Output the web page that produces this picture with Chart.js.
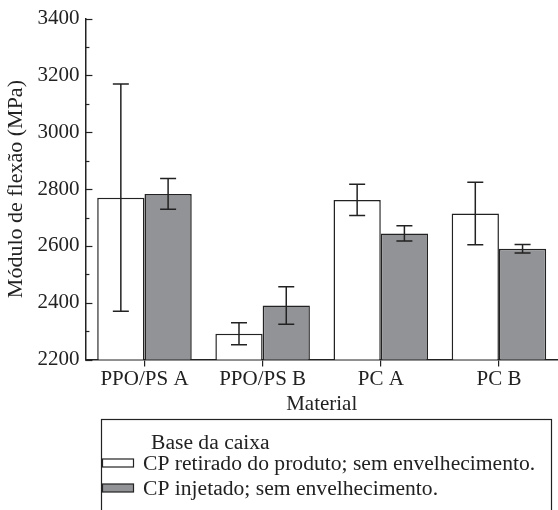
<!DOCTYPE html>
<html>
<head>
<meta charset="utf-8">
<script src="https://cdn.jsdelivr.net/npm/chart.js@4/dist/chart.umd.min.js"></script>
<style>
  html, body { margin: 0; padding: 0; background: #fff; }
  #wrap { width: 558px; height: 510px; }
</style>
</head>
<body>
<div id="wrap"><canvas id="modulo" width="558" height="510"></canvas></div>
<script>
var categories = ["PPO/PS A", "PPO/PS B", "PC A", "PC B"];
var seriesNames = ["CP retirado do produto; sem envelhecimento.", "CP injetado; sem envelhecimento."];
var legendTitle = "Base da caixa";

var retiradoValues = [2770, 2291, 2762, 2714];
var retiradoErrors = [400, 39, 55, 110];
var injetadoValues = [2783, 2390, 2644, 2590];
var injetadoErrors = [54, 66, 27, 15];

var yMin = 2200, yMax = 3400, yStep = 100, yLabelStep = 200;

var ink = "#222";
var serif = "'Liberation Serif', 'Times New Roman', serif";

// error bars, drawn through the bar scales
var errorBars = {
  id: "errorBars",
  afterDatasetsDraw: function(chart) {
    var ctx = chart.ctx;
    var y = chart.scales.y;
    ctx.save();
    ctx.strokeStyle = ink;
    ctx.lineWidth = 1.5;
    chart.data.datasets.forEach(function(ds, di) {
      var meta = chart.getDatasetMeta(di);
      meta.data.forEach(function(bar, i) {
        var v = ds.data[i], e = ds.errors[i];
        var top = y.getPixelForValue(v + e);
        var bot = y.getPixelForValue(v - e);
        ctx.beginPath();
        ctx.moveTo(bar.x, top); ctx.lineTo(bar.x, bot);
        ctx.moveTo(bar.x - 8, top); ctx.lineTo(bar.x + 8, top);
        ctx.moveTo(bar.x - 8, bot); ctx.lineTo(bar.x + 8, bot);
        ctx.stroke();
      });
    });
    ctx.restore();
  }
};

// y ticks point into the plot, long on labelled values
var innerTicks = {
  id: "innerTicks",
  afterDraw: function(chart) {
    var ctx = chart.ctx;
    var y = chart.scales.y;
    var left = chart.chartArea.left;
    ctx.save();
    ctx.strokeStyle = ink;
    ctx.lineWidth = 1.2;
    y.ticks.forEach(function(t) {
      var py = Math.round(y.getPixelForValue(t.value)) + 0.5;
      var len = (t.value % yLabelStep === 0) ? 7 : 4;
      ctx.beginPath();
      ctx.moveTo(left, py); ctx.lineTo(left + len, py);
      ctx.stroke();
    });
    ctx.restore();
  }
};

// boxed legend below the axis
var boxLegend = {
  id: "boxLegend",
  afterDraw: function(chart) {
    var ctx = chart.ctx;
    ctx.save();
    ctx.strokeStyle = ink;
    ctx.lineWidth = 1.2;
    ctx.strokeRect(101.5, 419.5, 450, 120);
    ctx.fillStyle = ink;
    ctx.font = "21.6px " + serif;
    ctx.textBaseline = "middle";
    ctx.fillText(legendTitle, 151, 443);
    chart.data.datasets.forEach(function(ds, i) {
      var cy = 463 + i * 25;
      ctx.fillStyle = ds.backgroundColor;
      ctx.fillRect(102.5, cy - 4, 31, 8);
      ctx.strokeStyle = ink;
      ctx.strokeRect(102.5, cy - 4, 31, 8);
      ctx.fillStyle = ink;
      ctx.fillText(ds.label, 143, cy + 1);
    });
    ctx.restore();
  }
};

new Chart("modulo", {
  type: "bar",
  data: {
    labels: categories,
    datasets: [{
      label: seriesNames[0],
      data: retiradoValues,
      errors: retiradoErrors,
      backgroundColor: "#ffffff",
      borderColor: ink,
      borderWidth: 1.5
    }, {
      label: seriesNames[1],
      data: injetadoValues,
      errors: injetadoErrors,
      backgroundColor: "#929396",
      borderColor: ink,
      borderWidth: 1.5
    }]
  },
  options: {
    responsive: false,
    animation: false,
    layout: { padding: { top: 18, right: 0, bottom: 93, left: 1 } },
    plugins: {
      legend: { display: false },
      tooltip: { enabled: false }
    },
    datasets: { bar: { categoryPercentage: 0.8, barPercentage: 1.0 } },
    scales: {
      x: {
        offset: true,
        grid: { display: true, offset: false, drawOnChartArea: false, tickLength: 7, color: ink, lineWidth: 1.2 },
        border: { display: true, color: ink, width: 1.5 },
        ticks: { color: ink, font: { family: serif, size: 21 }, padding: 0 },
        title: { display: true, text: "Material", color: ink, font: { family: serif, size: 21 }, padding: 0 }
      },
      y: {
        min: yMin,
        max: yMax,
        grid: { display: true, drawOnChartArea: false, drawTicks: false },
        border: { display: true, color: ink, width: 1.5 },
        ticks: {
          stepSize: yStep,
          padding: 6,
          color: ink,
          font: { family: serif, size: 21 },
          callback: function(v) { return v % yLabelStep === 0 ? v : ""; }
        },
        title: { display: true, text: "Módulo de flexão (MPa)", color: ink, font: { family: serif, size: 22 }, padding: 2 }
      }
    }
  },
  plugins: [errorBars, innerTicks, boxLegend]
});
</script>
</body>
</html>
